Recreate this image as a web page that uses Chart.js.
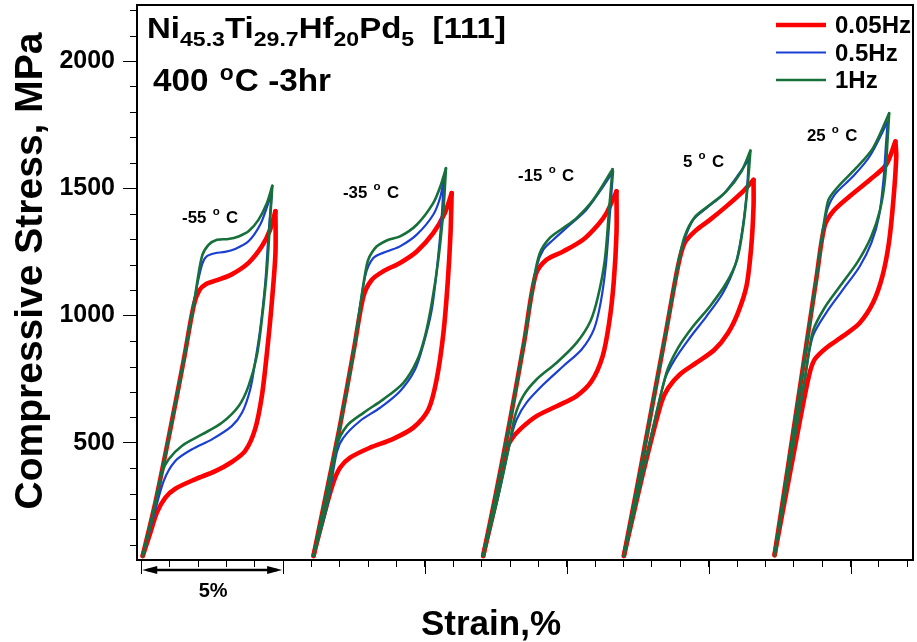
<!DOCTYPE html>
<html>
<head>
<meta charset="utf-8">
<script src="https://cdn.jsdelivr.net/npm/chart.js@4.4.0/dist/chart.umd.min.js"></script>
<style>
html, body { margin: 0; padding: 0; background: #fff; }
</style>
</head>
<body>
<canvas id="chart" width="917" height="642"></canvas>
<script>
// axis ranges
const strainMin = -0.15, strainMax = 27.2
const stressMin = 40, stressMax = 2220

const freqs = ['0.05Hz', '0.5Hz', '1Hz']
const temps = ['-55', '-35', '-15', '5', '25']

// [strain %, stress MPa] - loading up to the peak, then unloading back to start
const m55_005 = [[0.05,56],[0.5,267],[1.0,540],[1.5,827],[1.85,1040],[2.05,1100],[2.3,1125],[2.61,1137],[3.19,1162],[3.78,1207],[4.25,1272],[4.54,1337],[4.73,1410],[4.73,1246],[4.60,1050],[4.43,854],[4.25,684],[4.01,553],[3.66,468],[3.19,425],[2.61,389],[1.90,357],[1.20,320],[0.85,285],[0.55,226],[0.3,140],[0.05,56]]
const m55_05 = [[0.05,56],[0.5,267],[1.0,540],[1.5,827],[1.9,1080],[2.14,1200],[2.3,1232],[2.6,1245],[2.95,1250],[3.31,1262],[3.78,1292],[4.19,1357],[4.48,1442],[4.60,1478],[4.48,1311],[4.37,1128],[4.19,945],[4.01,815],[3.84,710],[3.55,618],[3.19,566],[2.49,514],[1.79,475],[1.20,429],[0.79,350],[0.38,187],[0.05,56]]
const m55_1 = [[0.05,56],[0.5,267],[1.0,540],[1.5,827],[1.9,1080],[2.14,1233],[2.37,1278],[2.67,1298],[3.07,1301],[3.43,1311],[3.78,1331],[4.13,1376],[4.43,1442],[4.62,1510],[4.54,1376],[4.43,1180],[4.25,984],[4.07,840],[3.78,723],[3.43,644],[2.84,579],[2.14,533],[1.43,488],[0.96,435],[0.73,383],[0.38,200],[0.05,56]]

const m35_005 = [[6.07,56],[6.5,290],[7.0,565],[7.5,870],[7.83,1075],[8.12,1140],[8.53,1174],[9.12,1207],[9.71,1252],[10.29,1324],[10.70,1403],[10.94,1481],[10.90,1324],[10.80,1128],[10.65,932],[10.41,749],[10.12,631],[9.59,560],[8.88,516],[8.06,481],[7.36,442],[7.01,403],[6.77,344],[6.45,220],[6.07,56]]
const m35_05 = [[6.07,56],[6.5,290],[7.0,565],[7.5,870],[7.89,1154],[8.18,1226],[8.65,1252],[9.12,1272],[9.71,1318],[10.29,1396],[10.55,1470],[10.67,1546],[10.59,1389],[10.43,1193],[10.24,1024],[9.96,893],[9.65,788],[9.12,703],[8.42,638],[7.71,586],[7.12,520],[6.89,462],[6.55,250],[6.07,56]]
const m35_1 = [[6.07,56],[6.5,290],[7.0,565],[7.5,870],[7.95,1200],[8.24,1265],[8.65,1295],[9.12,1311],[9.71,1357],[10.29,1442],[10.55,1510],[10.74,1579],[10.65,1416],[10.47,1220],[10.24,1050],[10.0,919],[9.71,821],[9.24,736],[8.53,671],[7.83,618],[7.24,566],[6.89,488],[6.55,260],[6.07,56]]

const m15_005 = [[12.05,56],[12.5,300],[13.0,590],[13.5,900],[13.9,1160],[14.29,1220],[14.87,1252],[15.57,1298],[16.10,1357],[16.40,1403],[16.75,1488],[16.75,1324],[16.65,1128],[16.49,971],[16.26,840],[15.87,742],[15.34,684],[14.64,644],[13.93,605],[13.35,553],[13.05,514],[12.88,475],[12.5,270],[12.05,56]]
const m15_05 = [[12.05,56],[12.5,300],[13.0,590],[13.5,900],[13.93,1190],[14.17,1259],[14.52,1298],[15.11,1357],[15.69,1416],[16.28,1507],[16.63,1566],[16.51,1389],[16.37,1193],[16.19,1050],[15.95,945],[15.52,867],[14.87,801],[14.17,729],[13.58,658],[13.23,592],[13.05,527],[12.6,300],[12.05,56]]
const m15_1 = [[12.05,56],[12.5,300],[13.0,590],[13.5,900],[13.85,1150],[14.05,1246],[14.40,1305],[14.87,1344],[15.34,1383],[15.93,1455],[16.61,1575],[16.49,1416],[16.34,1220],[16.10,1076],[15.83,978],[15.34,893],[14.64,815],[13.93,749],[13.46,684],[13.17,605],[12.95,480],[12.6,300],[12.05,56]]

const p5_005 = [[17.01,56],[17.5,340],[18.0,640],[18.5,940],[18.92,1195],[19.15,1285],[19.51,1331],[20.04,1376],[20.62,1429],[21.21,1488],[21.58,1533],[21.58,1429],[21.50,1272],[21.33,1115],[21.03,1011],[20.68,932],[20.21,867],[19.57,815],[18.98,769],[18.57,716],[18.33,658],[17.75,410],[17.01,56]]
const p5_05 = [[17.01,56],[17.5,340],[18.0,640],[18.5,940],[18.92,1200],[19.10,1285],[19.45,1376],[19.92,1422],[20.50,1475],[21.09,1560],[21.41,1612],[21.33,1468],[21.15,1311],[20.92,1193],[20.50,1089],[19.92,997],[19.33,912],[18.80,827],[18.45,749],[17.8,440],[17.01,56]]
const p5_1 = [[17.01,56],[17.5,340],[18.0,640],[18.5,940],[18.92,1200],[19.15,1311],[19.51,1387],[20.04,1435],[20.62,1488],[21.15,1566],[21.47,1648],[21.38,1520],[21.23,1363],[21.00,1220],[20.62,1128],[20.04,1036],[19.45,958],[18.92,873],[18.51,775],[17.8,440],[17.01,56]]

const p25_005 = [[22.32,59],[22.8,410],[23.3,780],[23.8,1150],[24.08,1350],[24.38,1409],[24.96,1468],[25.67,1533],[26.25,1592],[26.58,1684],[26.61,1625],[26.51,1455],[26.35,1285],[26.12,1154],[25.79,1050],[25.32,971],[24.73,919],[24.14,873],[23.73,827],[23.53,762],[23.1,520],[22.32,59]]
const p25_05 = [[22.32,59],[22.8,410],[23.3,780],[23.8,1150],[24.14,1400],[24.44,1475],[25.08,1546],[25.67,1625],[26.31,1762],[26.25,1677],[26.16,1533],[26.0,1389],[25.73,1285],[25.32,1193],[24.73,1102],[24.14,1011],[23.67,919],[23.4,760],[22.32,59]]
const p25_1 = [[22.32,59],[22.8,410],[23.3,780],[23.8,1150],[24.20,1448],[24.55,1505],[25.19,1579],[25.79,1658],[26.36,1795],[26.31,1703],[26.21,1533],[26.04,1416],[25.73,1311],[25.26,1213],[24.67,1122],[24.08,1030],[23.67,938],[23.4,760],[22.32,59]]

// where each temperature label sits (strain, stress)
const tempLabelAt = [[1.44,1364],[7.11,1462],[13.28,1529],[19.09,1584],[23.46,1686]]

const FONT = '"Liberation Sans", Arial, sans-serif'

// green first so it is drawn on top
const series = [
    {label: '1Hz', color: '#17703a', width: 2.6, curves: [m55_1, m35_1, m15_1, p5_1, p25_1]},
    {label: '0.5Hz', color: '#1a3fd1', width: 2.2, curves: [m55_05, m35_05, m15_05, p5_05, p25_05]},
    {label: '0.05Hz', color: '#ff0000', width: 4.6, curves: [m55_005, m35_005, m15_005, p5_005, p25_005]},
]

const datasets = []
series.forEach(s => {
    s.curves.forEach(c => {
        let peak = 0
        c.forEach((p, i) => { if (p[1] > c[peak][1]) peak = i })
        const parts = [c.slice(0, peak + 1), c.slice(peak)]
        parts.forEach(part => {
            datasets.push({
                label: s.label,
                data: part.map(p => ({x: p[0], y: p[1]})),
                borderColor: s.color,
                borderWidth: s.width,
                showLine: true,
                pointRadius: 0,
                tension: 0.3,
                borderJoinStyle: 'round',
                borderCapStyle: 'round',
                fill: false
            })
        })
    })
})

function drawParts(ctx, x, y, parts, sx){
    ctx.save()
    ctx.translate(x, y)
    ctx.scale(sx, 1)
    let cx = 0
    parts.forEach(p => {
        ctx.font = `bold ${p.size}px ${FONT}`
        ctx.fillText(p.t, cx, p.dy || 0)
        cx += ctx.measureText(p.t).width + (p.gap || 0)
    })
    ctx.restore()
}

const decorations = {
    id: 'decorations',
    afterDraw(chart){
        const {ctx, chartArea: a, scales: {x, y}} = chart
        ctx.save()
        ctx.strokeStyle = '#000'
        ctx.fillStyle = '#000'

        // frame
        ctx.lineWidth = 2
        ctx.strokeRect(a.left, a.top, a.right - a.left, a.bottom - a.top)

        // minor y ticks
        ctx.lineWidth = 1
        for(let v = 100; v <= stressMax; v += 100){
            if(v % 500 === 0 || v < stressMin) continue
            const py = Math.round(y.getPixelForValue(v)) + 0.5
            ctx.beginPath(); ctx.moveTo(a.left - 7, py); ctx.lineTo(a.left, py); ctx.stroke()
        }
        // long x ticks every 5 %
        for(let v = 0; v <= strainMax; v += 5){
            const px = Math.round(x.getPixelForValue(v)) + 0.5
            ctx.beginPath(); ctx.moveTo(px, a.bottom); ctx.lineTo(px, a.bottom + 14); ctx.stroke()
        }

        // 5 % scale bar
        const x0 = x.getPixelForValue(0), x1 = x.getPixelForValue(5), by = a.bottom + 10
        ctx.lineWidth = 2.5
        ctx.beginPath(); ctx.moveTo(x0 + 6, by); ctx.lineTo(x1 - 6, by); ctx.stroke()
        ctx.beginPath(); ctx.moveTo(x0 + 1, by); ctx.lineTo(x0 + 16, by - 4); ctx.lineTo(x0 + 16, by + 4); ctx.closePath(); ctx.fill()
        ctx.beginPath(); ctx.moveTo(x1 - 1, by); ctx.lineTo(x1 - 16, by - 4); ctx.lineTo(x1 - 16, by + 4); ctx.closePath(); ctx.fill()
        ctx.font = `bold 20px ${FONT}`
        ctx.textAlign = 'center'
        ctx.fillText('5%', (x0 + x1) / 2 + 1, a.bottom + 37)

        // axis titles
        ctx.font = `bold 35px ${FONT}`
        ctx.fillText('Strain,%', 491, 635)
        ctx.save()
        ctx.translate(42, 271)
        ctx.rotate(-Math.PI / 2)
        ctx.font = `bold 39px ${FONT}`
        ctx.fillText('Compressive Stress, MPa', 0, 0)
        ctx.restore()
        ctx.textAlign = 'left'

        // composition and heat treatment
        drawParts(ctx, 147, 38, [
            {t: 'Ni', size: 30}, {t: '45.3', size: 21, dy: 8},
            {t: 'Ti', size: 30}, {t: '29.7', size: 21, dy: 8},
            {t: 'Hf', size: 30}, {t: '20', size: 21, dy: 8},
            {t: 'Pd', size: 30}, {t: '5', size: 21, dy: 8},
            {t: '  [111]', size: 30}
        ], 1.1)
        drawParts(ctx, 153, 91, [
            {t: '400 ', size: 32, gap: 2}, {t: 'o', size: 22, dy: -11, gap: 1}, {t: 'C -3hr', size: 32}
        ], 1.04)

        // temperature labels
        temps.forEach((t, i) => {
            const [sx, sy] = tempLabelAt[i]
            drawParts(ctx, x.getPixelForValue(sx), y.getPixelForValue(sy), [
                {t: t, size: 16, gap: 6}, {t: 'o', size: 11, dy: -8, gap: 6}, {t: 'C', size: 16}
            ], 1.05)
        })

        // legend
        const legendRows = [
            {label: freqs[0], color: '#ff0000', width: 4.6},
            {label: freqs[1], color: '#1a3fd1', width: 2.2},
            {label: freqs[2], color: '#17703a', width: 2.6},
        ]
        legendRows.forEach((r, i) => {
            const ly = 25 + i * 27.5
            ctx.strokeStyle = r.color
            ctx.lineWidth = r.width
            ctx.beginPath(); ctx.moveTo(776, ly); ctx.lineTo(826, ly); ctx.stroke()
            ctx.fillStyle = '#000'
            ctx.font = `bold 24px ${FONT}`
            ctx.fillText(r.label, 835, ly + 8)
        })
        ctx.restore()
    }
}

new Chart(document.getElementById('chart'), {
    type: 'scatter',
    data: {datasets: datasets},
    options: {
        responsive: false,
        animation: false,
        devicePixelRatio: 1,
        layout: {padding: {left: 0, right: 4, top: 5, bottom: 0}},
        plugins: {legend: {display: false}, tooltip: {enabled: false}},
        scales: {
            x: {
                type: 'linear',
                min: strainMin,
                max: strainMax,
                afterFit: s => { s.height = 82; s.paddingLeft = 0; s.paddingRight = 0 },
                ticks: {display: false, stepSize: 1, includeBounds: false},
                grid: {drawOnChartArea: false, tickLength: 7, tickColor: '#000', tickWidth: 1},
                border: {display: true, color: '#000', width: 2}
            },
            y: {
                type: 'linear',
                min: stressMin,
                max: stressMax,
                afterFit: s => { s.width = 137; s.paddingTop = 0; s.paddingBottom = 0 },
                ticks: {
                    stepSize: 100,
                    autoSkip: false,
                    includeBounds: false,
                    padding: 8,
                    color: '#000',
                    font: {family: FONT, size: 25, weight: 'bold'},
                    callback: v => v % 500 === 0 ? v : ''
                },
                grid: {
                    drawOnChartArea: false,
                    tickLength: 14,
                    tickWidth: 1,
                    tickColor: c => c.tick && c.tick.value % 500 === 0 ? '#000' : 'rgba(0,0,0,0)'
                },
                border: {display: true, color: '#000', width: 2}
            }
        }
    },
    plugins: [decorations]
})
</script>
</body>
</html>
